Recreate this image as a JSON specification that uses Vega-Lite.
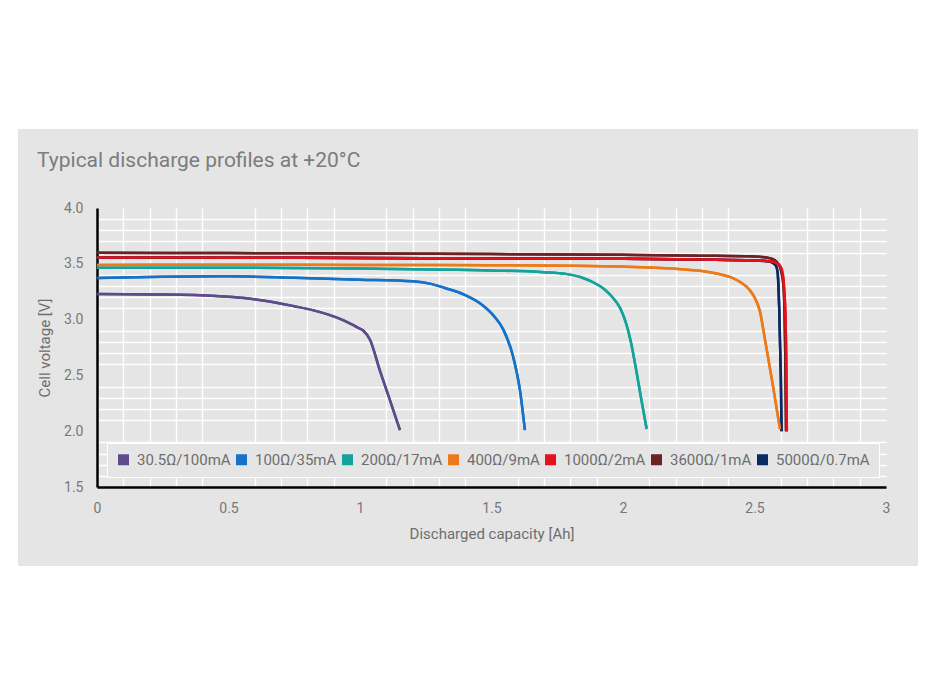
{
  "$schema": "https://vega.github.io/schema/vega-lite/v6.json",
  "width": 789,
  "height": 279,
  "autosize": {"type": "none"},
  "padding": {"left": 97, "top": 208, "right": 32, "bottom": 79},
  "background": "white",
  "title": {
    "text": "Typical discharge profiles at +20°C",
    "anchor": "start",
    "frame": "group",
    "dx": -60,
    "offset": 13,
    "baseline": "alphabetic",
    "font": "Roboto",
    "fontSize": 21,
    "fontWeight": "normal",
    "color": "#7c7c7c"
  },
  "data": {
    "values": [
      {"load": "5000Ω/0.7mA", "capacity": 0, "voltage": 3.556},
      {"load": "5000Ω/0.7mA", "capacity": 0.5, "voltage": 3.555},
      {"load": "5000Ω/0.7mA", "capacity": 1.0, "voltage": 3.552},
      {"load": "5000Ω/0.7mA", "capacity": 1.5, "voltage": 3.548},
      {"load": "5000Ω/0.7mA", "capacity": 2.0, "voltage": 3.545},
      {"load": "5000Ω/0.7mA", "capacity": 2.3, "voltage": 3.538},
      {"load": "5000Ω/0.7mA", "capacity": 2.5, "voltage": 3.53},
      {"load": "5000Ω/0.7mA", "capacity": 2.55, "voltage": 3.522},
      {"load": "5000Ω/0.7mA", "capacity": 2.57, "voltage": 3.508},
      {"load": "5000Ω/0.7mA", "capacity": 2.582, "voltage": 3.48},
      {"load": "5000Ω/0.7mA", "capacity": 2.588, "voltage": 3.42},
      {"load": "5000Ω/0.7mA", "capacity": 2.591, "voltage": 3.3},
      {"load": "5000Ω/0.7mA", "capacity": 2.594, "voltage": 3.1},
      {"load": "5000Ω/0.7mA", "capacity": 2.597, "voltage": 2.8},
      {"load": "5000Ω/0.7mA", "capacity": 2.6, "voltage": 2.5},
      {"load": "5000Ω/0.7mA", "capacity": 2.603, "voltage": 2.0},

      {"load": "30.5Ω/100mA", "capacity": 0, "voltage": 3.23},
      {"load": "30.5Ω/100mA", "capacity": 0.2, "voltage": 3.225},
      {"load": "30.5Ω/100mA", "capacity": 0.37, "voltage": 3.22},
      {"load": "30.5Ω/100mA", "capacity": 0.5, "voltage": 3.205},
      {"load": "30.5Ω/100mA", "capacity": 0.56, "voltage": 3.193},
      {"load": "30.5Ω/100mA", "capacity": 0.65, "voltage": 3.165},
      {"load": "30.5Ω/100mA", "capacity": 0.75, "voltage": 3.12},
      {"load": "30.5Ω/100mA", "capacity": 0.82, "voltage": 3.085},
      {"load": "30.5Ω/100mA", "capacity": 0.88, "voltage": 3.044},
      {"load": "30.5Ω/100mA", "capacity": 0.94, "voltage": 2.99},
      {"load": "30.5Ω/100mA", "capacity": 0.99, "voltage": 2.93},
      {"load": "30.5Ω/100mA", "capacity": 1.013, "voltage": 2.9},
      {"load": "30.5Ω/100mA", "capacity": 1.038, "voltage": 2.82},
      {"load": "30.5Ω/100mA", "capacity": 1.076, "voltage": 2.54},
      {"load": "30.5Ω/100mA", "capacity": 1.115, "voltage": 2.27},
      {"load": "30.5Ω/100mA", "capacity": 1.152, "voltage": 2.01},

      {"load": "100Ω/35mA", "capacity": 0, "voltage": 3.373},
      {"load": "100Ω/35mA", "capacity": 0.25, "voltage": 3.383},
      {"load": "100Ω/35mA", "capacity": 0.5, "voltage": 3.388},
      {"load": "100Ω/35mA", "capacity": 0.75, "voltage": 3.375},
      {"load": "100Ω/35mA", "capacity": 1.0, "voltage": 3.358},
      {"load": "100Ω/35mA", "capacity": 1.2, "voltage": 3.343},
      {"load": "100Ω/35mA", "capacity": 1.27, "voltage": 3.32},
      {"load": "100Ω/35mA", "capacity": 1.32, "voltage": 3.285},
      {"load": "100Ω/35mA", "capacity": 1.4, "voltage": 3.22},
      {"load": "100Ω/35mA", "capacity": 1.46, "voltage": 3.14},
      {"load": "100Ω/35mA", "capacity": 1.51, "voltage": 3.03},
      {"load": "100Ω/35mA", "capacity": 1.545, "voltage": 2.91},
      {"load": "100Ω/35mA", "capacity": 1.582, "voltage": 2.67},
      {"load": "100Ω/35mA", "capacity": 1.608, "voltage": 2.37},
      {"load": "100Ω/35mA", "capacity": 1.627, "voltage": 2.01},

      {"load": "200Ω/17mA", "capacity": 0, "voltage": 3.465},
      {"load": "200Ω/17mA", "capacity": 0.5, "voltage": 3.465},
      {"load": "200Ω/17mA", "capacity": 1.0, "voltage": 3.458},
      {"load": "200Ω/17mA", "capacity": 1.5, "voltage": 3.44},
      {"load": "200Ω/17mA", "capacity": 1.7, "voltage": 3.425},
      {"load": "200Ω/17mA", "capacity": 1.78, "voltage": 3.41},
      {"load": "200Ω/17mA", "capacity": 1.84, "voltage": 3.38},
      {"load": "200Ω/17mA", "capacity": 1.89, "voltage": 3.33},
      {"load": "200Ω/17mA", "capacity": 1.93, "voltage": 3.27},
      {"load": "200Ω/17mA", "capacity": 1.96, "voltage": 3.2},
      {"load": "200Ω/17mA", "capacity": 1.99, "voltage": 3.1},
      {"load": "200Ω/17mA", "capacity": 2.01, "voltage": 2.98},
      {"load": "200Ω/17mA", "capacity": 2.03, "voltage": 2.8},
      {"load": "200Ω/17mA", "capacity": 2.05, "voltage": 2.55},
      {"load": "200Ω/17mA", "capacity": 2.07, "voltage": 2.28},
      {"load": "200Ω/17mA", "capacity": 2.09, "voltage": 2.02},

      {"load": "400Ω/9mA", "capacity": 0, "voltage": 3.49},
      {"load": "400Ω/9mA", "capacity": 0.5, "voltage": 3.492},
      {"load": "400Ω/9mA", "capacity": 1.0, "voltage": 3.49},
      {"load": "400Ω/9mA", "capacity": 1.5, "voltage": 3.487},
      {"load": "400Ω/9mA", "capacity": 1.8, "voltage": 3.483},
      {"load": "400Ω/9mA", "capacity": 2.0, "voltage": 3.475},
      {"load": "400Ω/9mA", "capacity": 2.2, "voltage": 3.455},
      {"load": "400Ω/9mA", "capacity": 2.3, "voltage": 3.435},
      {"load": "400Ω/9mA", "capacity": 2.38, "voltage": 3.4},
      {"load": "400Ω/9mA", "capacity": 2.42, "voltage": 3.37},
      {"load": "400Ω/9mA", "capacity": 2.45, "voltage": 3.33},
      {"load": "400Ω/9mA", "capacity": 2.48, "voltage": 3.27},
      {"load": "400Ω/9mA", "capacity": 2.5, "voltage": 3.2},
      {"load": "400Ω/9mA", "capacity": 2.52, "voltage": 3.08},
      {"load": "400Ω/9mA", "capacity": 2.54, "voltage": 2.82},
      {"load": "400Ω/9mA", "capacity": 2.57, "voltage": 2.41},
      {"load": "400Ω/9mA", "capacity": 2.597, "voltage": 2.02},

      {"load": "3600Ω/1mA", "capacity": 0, "voltage": 3.598},
      {"load": "3600Ω/1mA", "capacity": 0.5, "voltage": 3.596},
      {"load": "3600Ω/1mA", "capacity": 1.0, "voltage": 3.592},
      {"load": "3600Ω/1mA", "capacity": 1.5, "voltage": 3.587},
      {"load": "3600Ω/1mA", "capacity": 2.0, "voltage": 3.58},
      {"load": "3600Ω/1mA", "capacity": 2.3, "voltage": 3.573},
      {"load": "3600Ω/1mA", "capacity": 2.5, "voltage": 3.565},
      {"load": "3600Ω/1mA", "capacity": 2.55, "voltage": 3.555},
      {"load": "3600Ω/1mA", "capacity": 2.575, "voltage": 3.535},
      {"load": "3600Ω/1mA", "capacity": 2.593, "voltage": 3.49},
      {"load": "3600Ω/1mA", "capacity": 2.603, "voltage": 3.42},
      {"load": "3600Ω/1mA", "capacity": 2.61, "voltage": 3.3},
      {"load": "3600Ω/1mA", "capacity": 2.614, "voltage": 3.1},
      {"load": "3600Ω/1mA", "capacity": 2.617, "voltage": 2.7},
      {"load": "3600Ω/1mA", "capacity": 2.62, "voltage": 2.0},

      {"load": "1000Ω/2mA", "capacity": 0, "voltage": 3.556},
      {"load": "1000Ω/2mA", "capacity": 0.5, "voltage": 3.555},
      {"load": "1000Ω/2mA", "capacity": 1.0, "voltage": 3.552},
      {"load": "1000Ω/2mA", "capacity": 1.5, "voltage": 3.548},
      {"load": "1000Ω/2mA", "capacity": 2.0, "voltage": 3.545},
      {"load": "1000Ω/2mA", "capacity": 2.3, "voltage": 3.538},
      {"load": "1000Ω/2mA", "capacity": 2.5, "voltage": 3.53},
      {"load": "1000Ω/2mA", "capacity": 2.56, "voltage": 3.522},
      {"load": "1000Ω/2mA", "capacity": 2.585, "voltage": 3.505},
      {"load": "1000Ω/2mA", "capacity": 2.6, "voltage": 3.47},
      {"load": "1000Ω/2mA", "capacity": 2.608, "voltage": 3.4},
      {"load": "1000Ω/2mA", "capacity": 2.613, "voltage": 3.27},
      {"load": "1000Ω/2mA", "capacity": 2.618, "voltage": 3.0},
      {"load": "1000Ω/2mA", "capacity": 2.621, "voltage": 2.6},
      {"load": "1000Ω/2mA", "capacity": 2.623, "voltage": 2.0}
    ]
  },
  "layer": [
    {
      "mark": {"type": "line", "strokeWidth": 2.5, "interpolate": "monotone"},
      "encoding": {
        "x": {
          "field": "capacity",
          "type": "quantitative",
          "scale": {"domain": [0, 3], "nice": false, "zero": false},
          "axis": {
            "orient": "bottom",
            "title": null,
            "labels": false,
            "domain": false,
            "values": [0, 0.1, 0.2, 0.3, 0.4, 0.6, 0.7, 0.8, 0.9, 1.1, 1.2, 1.3, 1.4, 1.6, 1.7, 1.8, 1.9, 2.1, 2.2, 2.3, 2.4, 2.6, 2.7, 2.8, 2.9],
            "gridWidth": 1.3
          }
        },
        "y": {
          "field": "voltage",
          "type": "quantitative",
          "scale": {"domain": [1.5, 4.0], "nice": false, "zero": false},
          "axis": {
            "orient": "left",
            "title": null,
            "labels": false,
            "domain": false,
            "values": [1.6, 1.7, 1.8, 1.9, 2.1, 2.2, 2.3, 2.4, 2.6, 2.7, 2.8, 2.9, 3.1, 3.2, 3.3, 3.4, 3.6, 3.7, 3.8, 3.9],
            "gridWidth": 1.3
          }
        },
        "color": {
          "field": "load",
          "type": "nominal",
          "sort": null,
          "scale": {
            "domain": ["30.5Ω/100mA", "100Ω/35mA", "200Ω/17mA", "400Ω/9mA", "1000Ω/2mA", "3600Ω/1mA", "5000Ω/0.7mA"],
            "range": ["#5e4b8b", "#1572c8", "#13a39a", "#ec7a1b", "#e8101a", "#6b2222", "#0b2a63"]
          },
          "legend": {
            "title": null,
            "orient": "none",
            "legendX": 10,
            "legendY": 235,
            "direction": "horizontal",
            "symbolType": "square",
            "symbolSize": 121,
            "symbolStrokeWidth": 0,
            "labelFont": "Roboto",
            "labelFontSize": 15,
            "labelColor": "#6e6e6e",
            "labelOffset": 6,
            "columnPadding": 3,
            "padding": 9,
            "fillColor": "#e5e5e5",
            "strokeColor": "white",
            "encode": {
              "symbols": {
                "update": {
                  "fill": {"scale": "color", "field": "value"},
                  "strokeWidth": {"value": 0}
                }
              }
            }
          }
        }
      }
    },
    {
      "mark": {"type": "line", "strokeWidth": 2.5, "interpolate": "monotone"},
      "encoding": {
        "x": {
          "field": "capacity",
          "type": "quantitative",
          "axis": {
            "orient": "bottom",
            "title": "Discharged capacity [Ah]",
            "values": [0, 0.5, 1, 1.5, 2, 2.5, 3],
            "format": "~g",
            "gridWidth": 2.5,
            "labelPadding": 14,
            "titlePadding": 11
          }
        },
        "y": {
          "field": "voltage",
          "type": "quantitative",
          "axis": {
            "orient": "left",
            "title": "Cell voltage [V]",
            "values": [1.5, 2, 2.5, 3, 3.5, 4],
            "format": ".1f",
            "gridWidth": 2.5,
            "labelPadding": 14,
            "titlePadding": 11
          }
        },
        "color": {"field": "load", "type": "nominal", "sort": null}
      }
    }
  ],
  "resolve": {"axis": {"x": "independent", "y": "independent"}},
  "config": {
    "view": {"fill": "#e5e5e5", "stroke": "#e5e5e5", "strokeWidth": 158},
    "axis": {
      "grid": true,
      "gridColor": "white",
      "ticks": false,
      "tickSize": 0,
      "domain": true,
      "domainColor": "black",
      "domainWidth": 2.5,
      "labelFont": "Roboto",
      "labelFontSize": 14,
      "labelColor": "#777777",
      "labelFlush": false,
      "titleFont": "Roboto",
      "titleFontSize": 15,
      "titleFontWeight": "normal",
      "titleColor": "#6e6e6e"
    }
  }
}
